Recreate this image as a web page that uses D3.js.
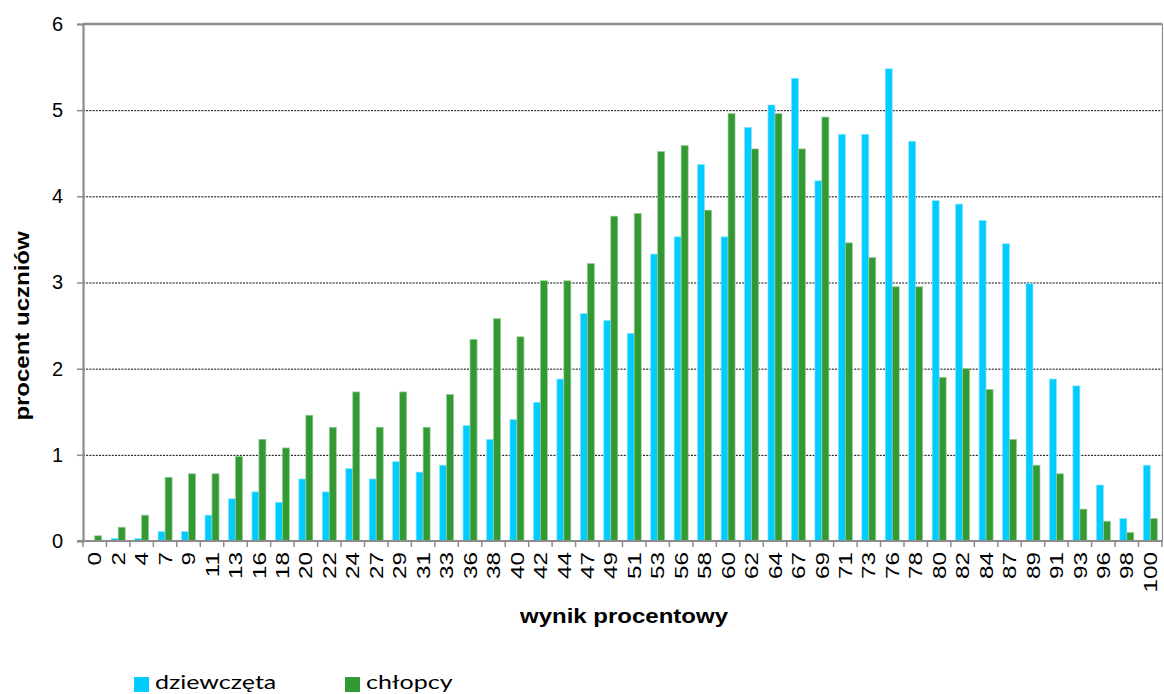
<!DOCTYPE html>
<html>
<head>
<meta charset="utf-8">
<script src="https://cdn.jsdelivr.net/npm/d3@7"></script>
<style>
  body { margin: 0; background: #fff; }
  svg { display: block; }
</style>
</head>
<body>
<svg id="chart" width="1164" height="694"></svg>
<script>
const categories = ["0","2","4","7","9","11","13","16","18","20","22","24","27","29","31","33","36","38","40","42","44","47","49","51","53","56","58","60","62","64","67","69","71","73","76","78","80","82","84","87","89","91","93","96","98","100"];
const dziewczeta = [0,0.03,0.03,0.11,0.11,0.30,0.49,0.57,0.45,0.72,0.57,0.84,0.72,0.92,0.80,0.88,1.34,1.18,1.41,1.61,1.88,2.64,2.56,2.41,3.33,3.53,4.37,3.53,4.80,5.06,5.37,4.18,4.72,4.72,5.48,4.64,3.95,3.91,3.72,3.45,2.99,1.88,1.80,0.65,0.26,0.88];
const chlopcy = [0.06,0.16,0.30,0.74,0.78,0.78,0.98,1.18,1.08,1.46,1.32,1.73,1.32,1.73,1.32,1.70,2.34,2.58,2.37,3.02,3.02,3.22,3.77,3.80,4.52,4.59,3.84,4.96,4.55,4.96,4.55,4.92,3.46,3.29,2.95,2.95,1.90,2.00,1.76,1.18,0.88,0.78,0.37,0.23,0.10,0.26];
const yTicks = [0,1,2,3,4,5,6];
const seriesNames = ["dziewczęta","chłopcy"];
const seriesColors = ["#00CCFF","#339933"];
const seriesEdges = ["#8be6ff","#99cc99"];
const xTitle = "wynik procentowy";
const yTitle = "procent uczniów";

const svg = d3.select("#chart");
const L = 83, T = 24, R = 1162, B = 541;
const FONT = "Liberation Sans, Arial, sans-serif";

const x = d3.scaleBand().domain(categories).range([L, R]).padding(0);
const xs = d3.scaleBand().domain(seriesNames).range([0, x.bandwidth()]).paddingInner(0).paddingOuter(0.675);
const y = d3.scaleLinear().domain([0, 6]).range([B, T]);

// gridlines
svg.append("g").selectAll("line").data(yTicks.filter(d => d > 0 && d < 6)).join("line")
  .attr("x1", L).attr("x2", R).attr("y1", d => y(d) + 0.5).attr("y2", d => y(d) + 0.5)
  .attr("stroke", "#000").attr("stroke-width", 1).attr("stroke-dasharray", "2,1.2");

// bars
const data = categories.map((c, i) => ({c, vals: [dziewczeta[i], chlopcy[i]]}));
const g = svg.append("g").selectAll("g").data(data).join("g")
  .attr("transform", d => `translate(${x(d.c)},0)`);
g.selectAll("rect").data(d => d.vals.map((v, k) => ({v, k}))).join("rect")
  .attr("x", d => xs(seriesNames[d.k]))
  .attr("width", xs.bandwidth())
  .attr("y", d => y(d.v))
  .attr("height", d => B - y(d.v))
  .attr("fill", d => seriesColors[d.k])
  .attr("stroke", d => seriesEdges[d.k])
  .attr("stroke-width", 0.7);

// frame: top and right
svg.append("line").attr("x1", L).attr("x2", R + 0.5).attr("y1", T).attr("y2", T)
  .attr("stroke", "#8c8c8c").attr("stroke-width", 2.5);
svg.append("line").attr("x1", R + 0.5).attr("x2", R + 0.5).attr("y1", T).attr("y2", B)
  .attr("stroke", "#8c8c8c").attr("stroke-width", 1.2);

// y axis
const yAxis = d3.axisLeft(y).tickValues(yTicks).tickSize(6).tickPadding(14).tickFormat(d3.format("d"));
const ya = svg.append("g").attr("transform", `translate(${L},0)`).call(yAxis);
ya.select(".domain").attr("stroke", "#8c8c8c").attr("stroke-width", 2.2);
ya.selectAll(".tick line").attr("stroke", "#8c8c8c").attr("stroke-width", 1.5);
ya.selectAll(".tick text").attr("font-family", FONT).attr("font-size", 20).attr("fill", "#000");

// x axis: ticks between categories
const xa = svg.append("g").attr("transform", `translate(0,${B})`);
xa.append("line").attr("x1", L - 6).attr("x2", R + 0.5).attr("y1", 0).attr("y2", 0)
  .attr("stroke", "#8c8c8c").attr("stroke-width", 2.2);
const bounds = categories.map(c => x(c)).concat([x(categories[categories.length - 1]) + x.bandwidth()]);
xa.selectAll("line.tk").data(bounds).join("line").attr("class", "tk")
  .attr("x1", d => d).attr("x2", d => d).attr("y1", 0).attr("y2", 6)
  .attr("stroke", "#8c8c8c").attr("stroke-width", 1.5);
const xAxis = d3.axisBottom(x).tickSize(0).tickPadding(0);
const xl = svg.append("g").attr("transform", `translate(0,${B})`).call(xAxis);
xl.select(".domain").remove();
xl.selectAll(".tick text")
  .attr("font-family", FONT).attr("font-size", 19).attr("fill", "#000")
  .attr("transform", "rotate(-90) translate(-11,0) scale(1.28,1)")
  .attr("text-anchor", "end")
  .attr("x", 0).attr("y", 0).attr("dy", "0.35em");

// axis titles
svg.append("text").attr("transform", "translate(624,623) scale(1.2,1)").attr("text-anchor", "middle")
  .attr("font-family", FONT).attr("font-weight", "bold").attr("font-size", 20)
  .text(xTitle);
svg.append("text").attr("transform", "translate(29,326) rotate(-90) scale(1.2,1)").attr("text-anchor", "middle")
  .attr("font-family", FONT).attr("font-weight", "bold").attr("font-size", 20)
  .text(yTitle);

// legend
const legX = [134, 345];
const lg = svg.append("g").selectAll("g").data(seriesNames).join("g")
  .attr("transform", (d, i) => `translate(${legX[i]},677)`);
lg.append("rect").attr("width", 15).attr("height", 15).attr("fill", (d, i) => seriesColors[i]);
lg.append("text").attr("transform", "translate(21,12) scale(1.25,1)")
  .attr("font-family", "Lato, 'Open Sans', sans-serif").attr("font-size", 20)
  .attr("fill", "#000").text(d => d);
</script>
</body>
</html>
